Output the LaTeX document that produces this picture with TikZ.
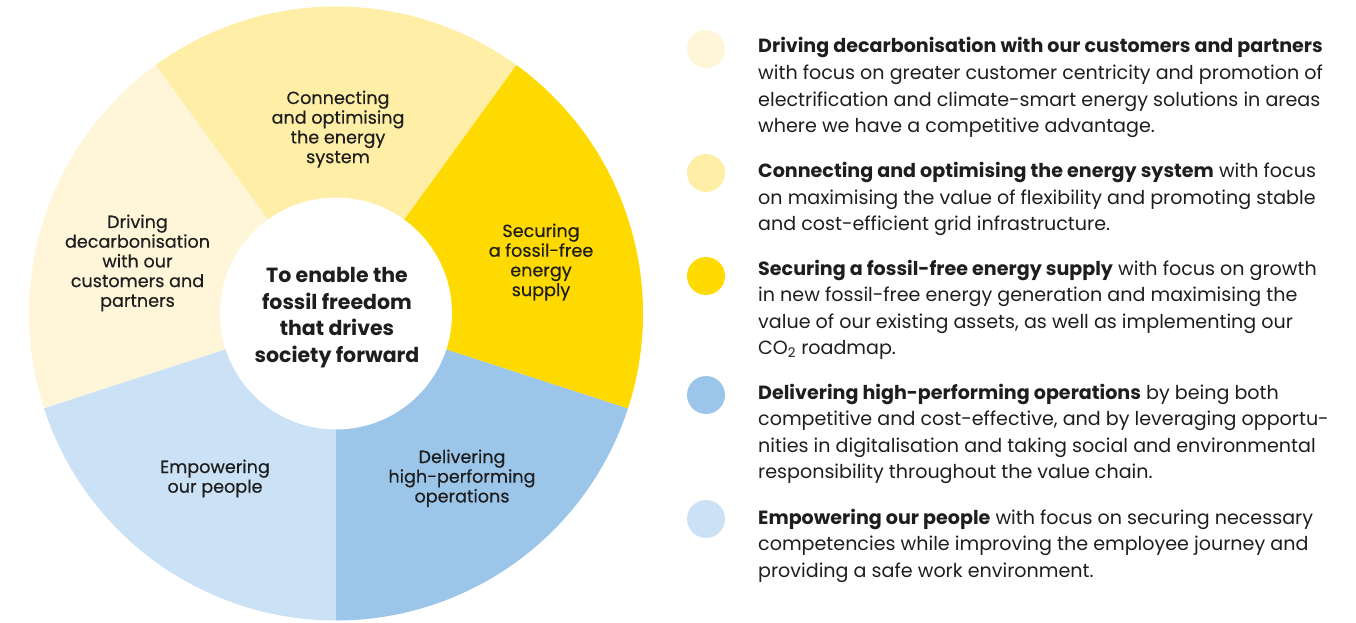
\documentclass[tikz,border=0pt]{standalone}
\usepackage{fontspec}
\setmainfont{Poppins}
\newfontfamily\pmed{Poppins}[FakeBold=0.35]
\definecolor{cdrive}{HTML}{FFF6D9}
\definecolor{cconn}{HTML}{FFEEA6}
\definecolor{csec}{HTML}{FFDA00}
\definecolor{cdel}{HTML}{9CC5EA}
\definecolor{cemp}{HTML}{CBE1F5}
\definecolor{ink}{HTML}{1E1E1E}
\newcommand{\pielabel}[1]{\parbox[t]{220pt}{\centering\pmed\fontsize{17.6}{19.7}\selectfont #1}}
\newcommand{\hubtext}[1]{\parbox[t]{220pt}{\centering\fontsize{20.5}{26.5}\selectfont\bfseries #1}}
\newcommand{\legtext}[1]{\parbox[t]{620pt}{\raggedright\fontsize{19.1}{26.6}\selectfont #1}}
\begin{document}
\begin{tikzpicture}[x=1pt,y=1pt,
  lbl/.style={inner sep=0pt, anchor=base, text=ink},
  legend/.style={inner sep=0pt, anchor=base west, text=ink},
  dot/.style={circle, inner sep=0pt, minimum size=38pt}]
\useasboundingbox (0,0) rectangle (1356,622);
\coordinate (C) at (336,308.5);
% sectors
\fill[cconn]  (C) -- ++(54:307)  arc[start angle=54,  end angle=126, radius=307] -- cycle;
\fill[cdrive] (C) -- ++(126:307) arc[start angle=126, end angle=198, radius=307] -- cycle;
\fill[cemp]   (C) -- ++(198:307) arc[start angle=198, end angle=270, radius=307] -- cycle;
\fill[cdel]   (C) -- ++(270:307) arc[start angle=270, end angle=342, radius=307] -- cycle;
\fill[csec]   (C) -- ++(-18:307) arc[start angle=-18, end angle=54,  radius=307] -- cycle;
\fill[white] (C) circle[radius=116];
% pie labels
\node[lbl] (hub) at (337,339.5) {\hubtext{To enable the\\fossil freedom\\that drives\\society forward}};
\node[lbl] (conn) at (338,518) {\pielabel{Connecting\\and optimising\\the energy\\system}};
\node[lbl] (drive) at (137.5,394) {\pielabel{Driving\\decarbonisation\\with our\\customers and\\partners}};
\node[lbl] (sec) at (541,385) {\pielabel{Securing\\a fossil-free\\energy\\supply}};
\node[lbl] (del) at (462,159) {\pielabel{Delivering\\high-performing\\operations}};
\node[lbl] (emp) at (215,149) {\pielabel{Empowering\\our people}};
% legend dots
\node[dot, fill=cdrive] (d1) at (706,573) {};
\node[dot, fill=cconn]  (d2) at (706,449) {};
\node[dot, fill=csec]   (d3) at (706,346) {};
\node[dot, fill=cdel]   (d4) at (706,227) {};
\node[dot, fill=cemp]   (d5) at (706,103) {};
% legend texts
\node[legend] (t1) at (758,569) {\legtext{\textbf{Driving decarbonisation with our customers and partners}\\with focus on greater customer centricity and promotion of\\electrification and climate-smart energy solutions in areas\\where we have a competitive advantage.}};
\node[legend] (t2) at (758,444.3) {\legtext{\textbf{Connecting and optimising the energy system} with focus\\on maximising the value of flexibility and promoting stable\\and cost-efficient grid infrastructure.}};
\node[legend] (t3) at (758,347) {\legtext{\textbf{Securing a fossil-free energy supply} with focus on growth\\in new fossil-free energy generation and maximising the\\value of our existing assets, as well as implementing our\\CO\textsubscript{2} roadmap.}};
\node[legend] (t4) at (758,223) {\legtext{\textbf{Delivering high-performing operations} by being both\\competitive and cost-effective, and by leveraging opportu-\\nities in digitalisation and taking social and environmental\\responsibility throughout the value chain.}};
\node[legend] (t5) at (758,98) {\legtext{\textbf{Empowering our people} with focus on securing necessary\\competencies while improving the employee journey and\\providing a safe work environment.}};
\end{tikzpicture}
\end{document}
